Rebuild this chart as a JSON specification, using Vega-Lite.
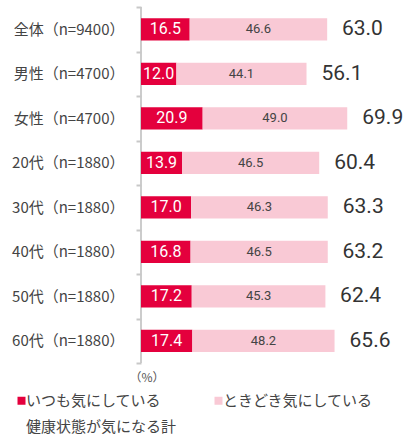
{
  "$schema": "https://vega.github.io/schema/vega-lite/v6.json",
  "width": 262,
  "height": 356,
  "autosize": {"type": "none"},
  "padding": {"left": 141, "top": 7, "right": 0, "bottom": 71},
  "background": "white",
  "config": {"view": {"stroke": null}, "font": "Noto Sans CJK JP"},
  "datasets": {
    "bars": [
      {"cat": "全体（n=9400）", "series": "いつも気にしている", "value": 16.5},
      {"cat": "全体（n=9400）", "series": "ときどき気にしている", "value": 46.6},
      {"cat": "男性（n=4700）", "series": "いつも気にしている", "value": 12.0},
      {"cat": "男性（n=4700）", "series": "ときどき気にしている", "value": 44.1},
      {"cat": "女性（n=4700）", "series": "いつも気にしている", "value": 20.9},
      {"cat": "女性（n=4700）", "series": "ときどき気にしている", "value": 49.0},
      {"cat": "20代（n=1880）", "series": "いつも気にしている", "value": 13.9},
      {"cat": "20代（n=1880）", "series": "ときどき気にしている", "value": 46.5},
      {"cat": "30代（n=1880）", "series": "いつも気にしている", "value": 17.0},
      {"cat": "30代（n=1880）", "series": "ときどき気にしている", "value": 46.3},
      {"cat": "40代（n=1880）", "series": "いつも気にしている", "value": 16.8},
      {"cat": "40代（n=1880）", "series": "ときどき気にしている", "value": 46.5},
      {"cat": "50代（n=1880）", "series": "いつも気にしている", "value": 17.2},
      {"cat": "50代（n=1880）", "series": "ときどき気にしている", "value": 45.3},
      {"cat": "60代（n=1880）", "series": "いつも気にしている", "value": 17.4},
      {"cat": "60代（n=1880）", "series": "ときどき気にしている", "value": 48.2}
    ],
    "totals": [
      {"cat": "全体（n=9400）", "total": 63.0},
      {"cat": "男性（n=4700）", "total": 56.1},
      {"cat": "女性（n=4700）", "total": 69.9},
      {"cat": "20代（n=1880）", "total": 60.4},
      {"cat": "30代（n=1880）", "total": 63.3},
      {"cat": "40代（n=1880）", "total": 63.2},
      {"cat": "50代（n=1880）", "total": 62.4},
      {"cat": "60代（n=1880）", "total": 65.6}
    ]
  },
  "layer": [
    {
      "data": {"values": [{}]},
      "mark": {"type": "rule", "color": "#cccccc", "strokeWidth": 2},
      "encoding": {"x": {"datum": 0, "type": "quantitative"}}
    },
    {
      "data": {"name": "bars"},
      "mark": {"type": "bar", "height": {"band": 0.5}},
      "encoding": {
        "y": {
          "field": "cat", "type": "nominal", "sort": null,
          "scale": {"paddingInner": 0, "paddingOuter": 0},
          "axis": {
            "title": null, "domain": false, "tickSize": 5, "tickBand": "extent",
            "ticks": true, "tickColor": "#c8c8c8", "tickWidth": 2, "tickOpacity": 1, "labelPadding": 12, "zindex": 1,
            "labelFont": "Noto Sans CJK JP", "labelFontSize": 15, "labelColor": "#444", "labelLimit": 200
          }
        },
        "x": {
          "field": "value", "type": "quantitative", "stack": "zero",
          "scale": {"domain": [0, 88.8], "nice": false},
          "axis": {
            "domain": false, "ticks": false, "labels": false, "grid": false,
            "title": "（%）", "titleAnchor": "start", "titleAlign": "left", "titleX": -12, "titleY": 14,
            "titleBaseline": "middle", "titleFontSize": 12, "titleFontWeight": "normal", "titleColor": "#555",
            "titleFont": "Noto Sans CJK JP"
          }
        },
        "color": {
          "field": "series", "type": "nominal",
          "scale": {
            "domain": ["いつも気にしている", "ときどき気にしている", "健康状態が気になる計"],
            "range": ["#e4003d", "#f9c9d5", "transparent"]
          },
          "legend": {
            "orient": "none", "legendX": -127, "legendY": 386, "title": null,
            "direction": "horizontal", "columns": 2, "columnPadding": 34, "rowPadding": 10,
            "symbolType": "square", "symbolSize": 64, "symbolStrokeWidth": 0, "labelOffset": -3,
            "labelFont": "Noto Sans CJK JP", "labelFontSize": 15, "labelColor": "#444", "labelLimit": 300
          }
        }
      }
    },
    {
      "data": {"name": "bars"},
      "mark": {"type": "text", "font": "Roboto", "baseline": "middle"},
      "encoding": {
        "y": {"field": "cat", "type": "nominal", "sort": null},
        "x": {"field": "value", "type": "quantitative", "stack": "zero", "bandPosition": 0.5},
        "detail": {"field": "series"},
        "text": {"field": "value", "type": "quantitative", "format": ".1f"},
        "color": {"condition": {"test": "datum.series === 'いつも気にしている'", "value": "white"}, "value": "#444"},
        "size": {"condition": {"test": "datum.series === 'いつも気にしている'", "value": 16}, "value": 13}
      }
    },
    {
      "data": {"name": "totals"},
      "mark": {"type": "text", "font": "Roboto", "align": "left", "baseline": "middle", "dx": 15, "fontSize": 21, "color": "#333"},
      "encoding": {
        "y": {"field": "cat", "type": "nominal", "sort": null},
        "x": {"field": "total", "type": "quantitative"},
        "text": {"field": "total", "type": "quantitative", "format": ".1f"}
      }
    }
  ]
}
